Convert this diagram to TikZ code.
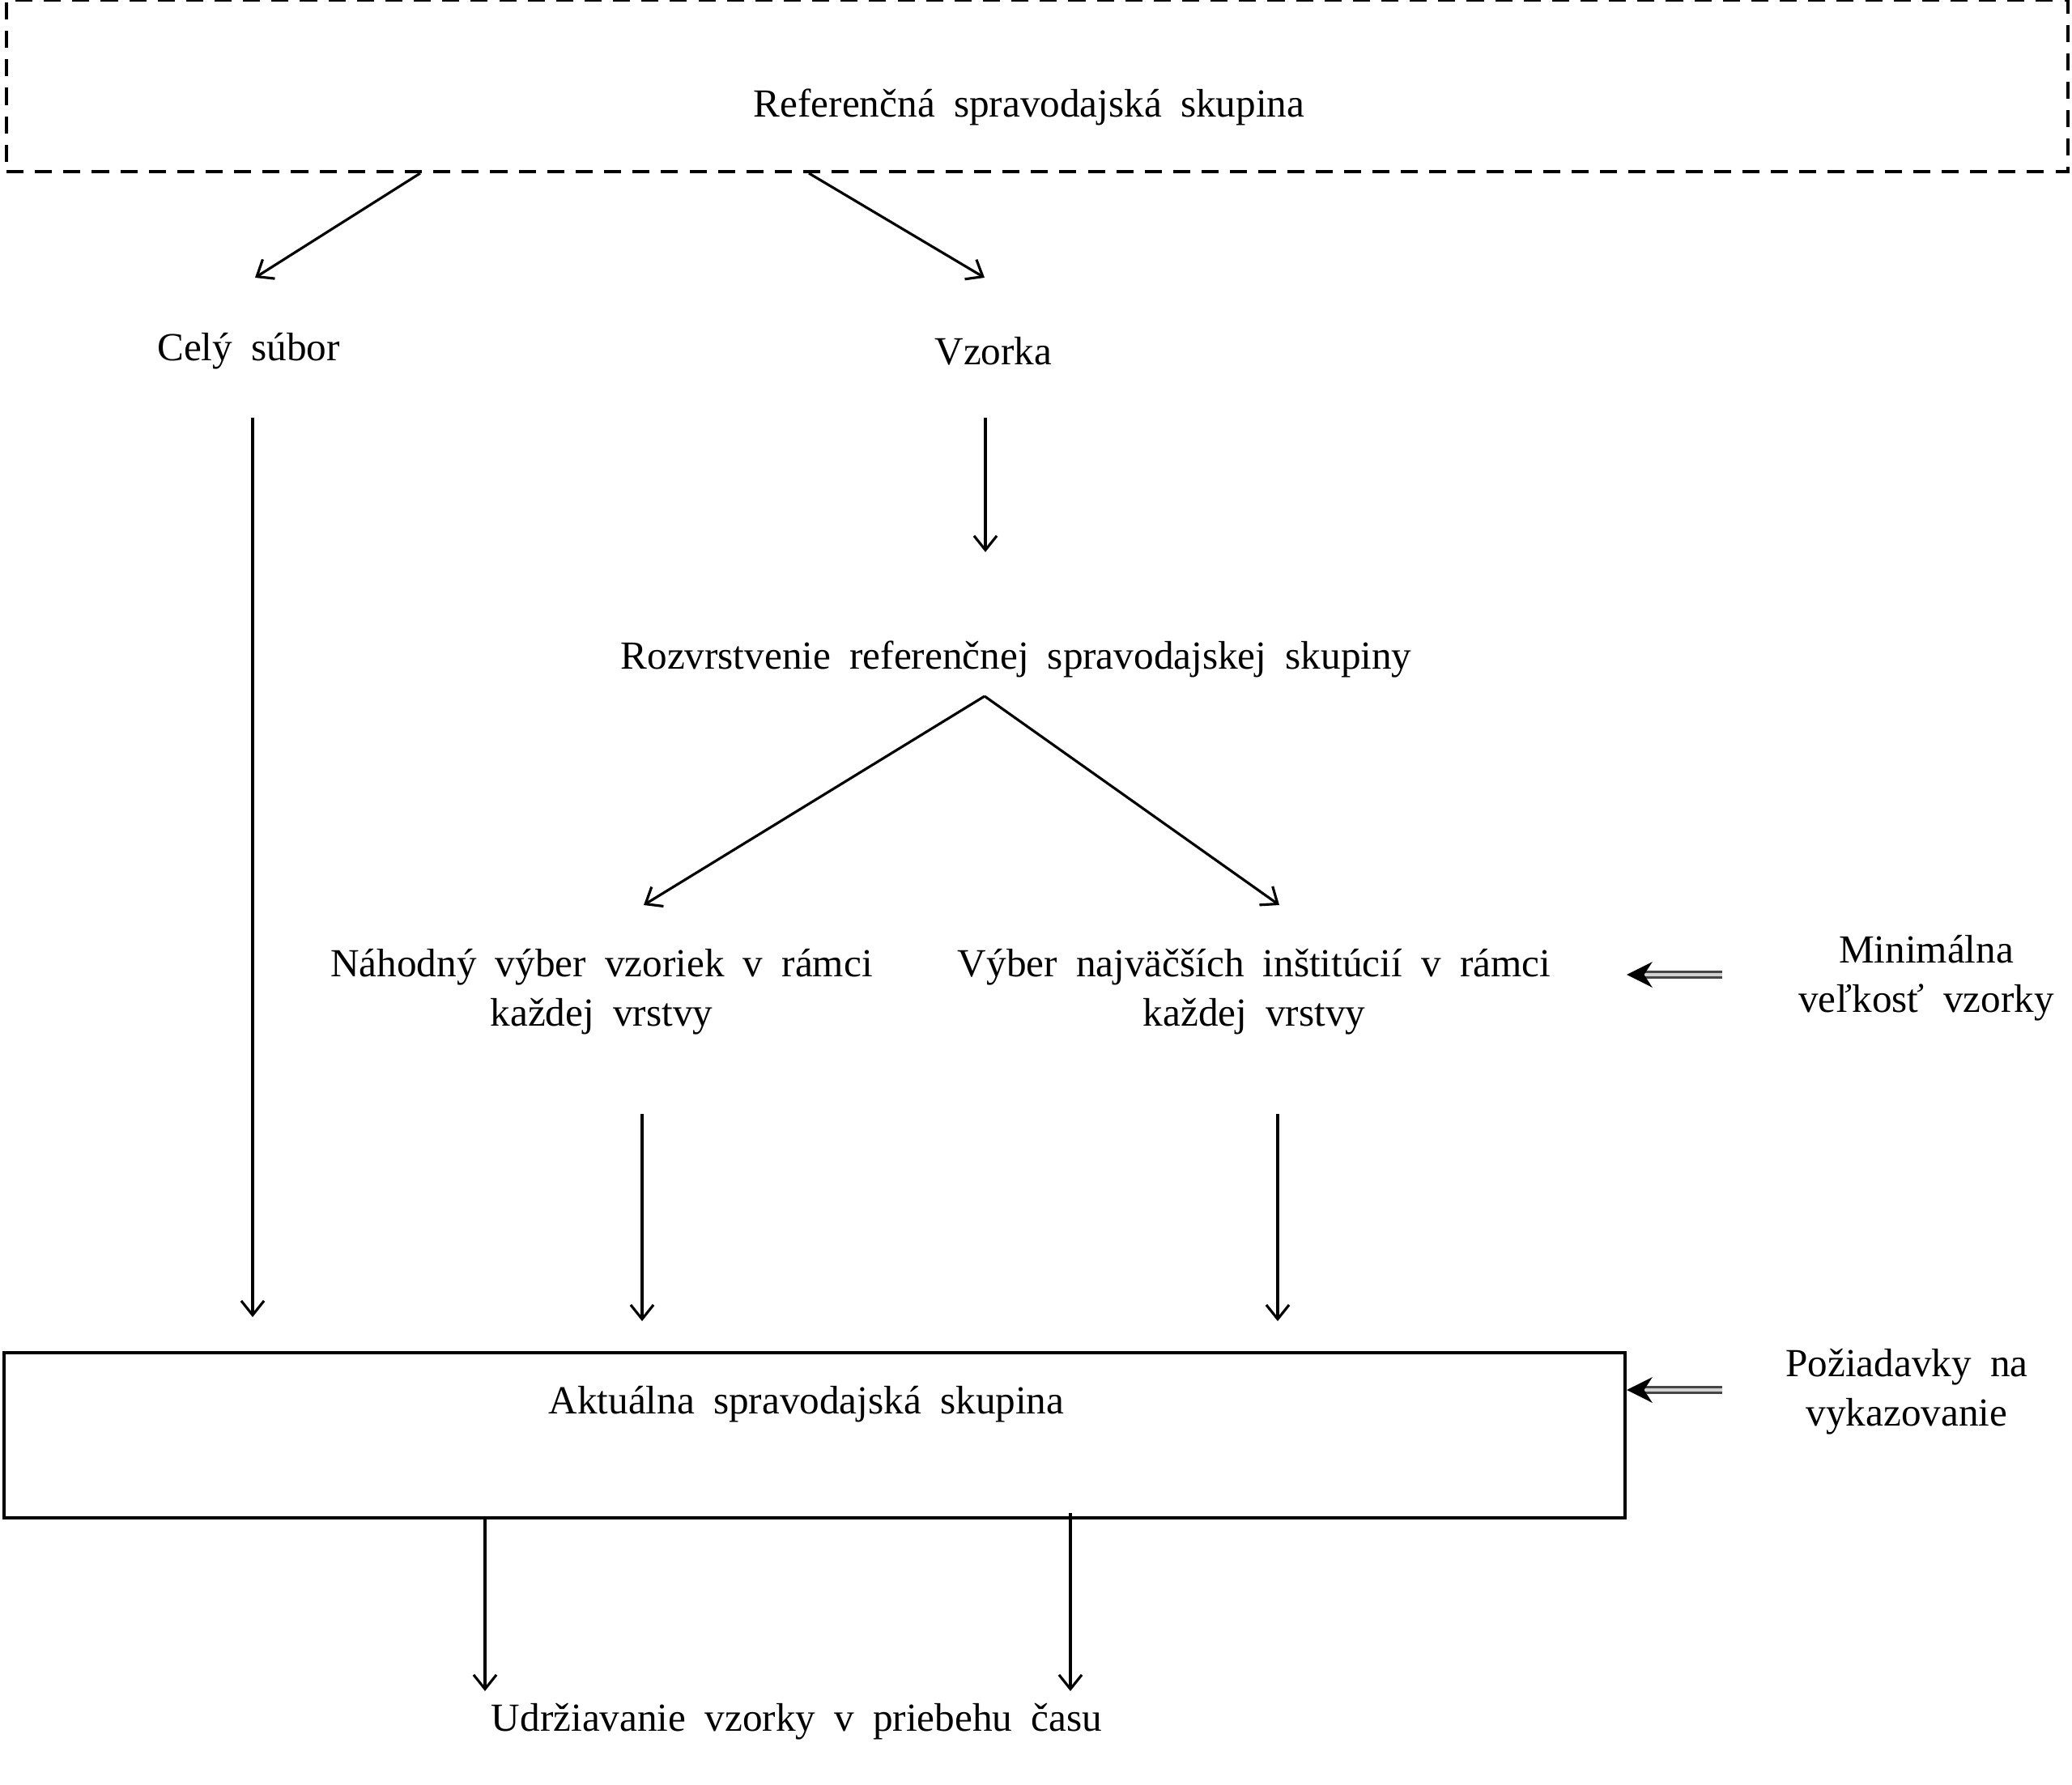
\documentclass[tikz,border=0pt]{standalone}
\usepackage{fontspec}
\setmainfont{Liberation Serif}
\usetikzlibrary{arrows.meta}
\usetikzlibrary{positioning}

\newcommand{\boxfont}{\fontsize{14}{17.5}\selectfont\spaceskip 6.6pt plus 1pt\relax}

\tikzset{
  txt/.style={inner sep=0pt, align=center, yshift=-0.5mm, font=\boxfont},
  arr/.style={line width=0.9pt, -{Straight Barb[length=5pt,width=8pt]}},
  dblarr/.style={draw=gray!55!black, double=gray!35, double distance=1.4pt, line width=0.7pt, -{Stealth[length=9pt,width=9pt,black]}}
}

\begin{document}
\begin{tikzpicture}[>=Stealth]
  \useasboundingbox (0,0) rectangle (25.59,-22.05);

  % ramce
  \node[draw, dashed, dash pattern=on 6pt off 4pt, line width=1.2pt, minimum width=25.46cm, minimum height=2.12cm, inner sep=0pt] (ref) at (12.81,-1.06) {};
  \node[txt] (reftext) at (12.71,-1.27) {Referenčná spravodajská skupina};
  \node[draw, line width=1.2pt, minimum width=20.02cm, minimum height=2.04cm, inner sep=0pt] (akt) at (10.06,-17.73) {};
  \node[txt] (akttext) at (9.96,-17.30) {Aktuálna spravodajská skupina};

  % texty
  \node[txt] (cely) at (3.07,-4.29) {Celý súbor};
  \node[txt] (vzorka) at (12.27,-4.29) {Vzorka};
  \node[txt] (rozv) at (12.55,-8.09) {Rozvrstvenie referenčnej spravodajskej skupiny};
  \node[txt] (nahod) at (7.43,-12.20) {Náhodný výber vzoriek v rámci\\ každej vrstvy};
  \node[txt] (vyber) at (15.49,-12.20) {Výber najväčších inštitúcií v rámci\\ každej vrstvy};
  \node[txt] (minim) at (23.79,-12.03) {Minimálna\\ veľkosť vzorky};
  \node[txt] (pozi) at (23.55,-17.14) {Požiadavky na\\ vykazovanie};
  \node[txt] (udrz) at (9.84,-21.22) {Udržiavanie vzorky v priebehu času};

  % body sipok
  \coordinate (refL) at (5.19,-2.14);
  \coordinate (refR) at (9.99,-2.14);
  \coordinate (celyIn) at (3.15,-3.43);
  \coordinate (vzorkaIn) at (12.16,-3.43);
  \coordinate (celyOut) at (3.12,-5.16);
  \coordinate (vzorkaOut) at (12.17,-5.16);
  \coordinate (rozvIn) at (12.17,-6.82);
  \coordinate (rozvOut) at (12.16,-8.60);
  \coordinate (nahodIn) at (7.95,-11.18);
  \coordinate (vyberIn) at (15.80,-11.18);
  \coordinate (nahodOut) at (7.93,-13.76);
  \coordinate (vyberOut) at (15.78,-13.76);
  \coordinate (minimOut) at (21.27,-12.04);
  \coordinate (poziOut) at (21.27,-17.17);
  \coordinate (udrzIn) at (5.99,-20.89);
  \coordinate (udrzIn2) at (13.22,-20.89);

  % sipky
  \draw[arr] (refL) -- (celyIn);
  \draw[arr] (refR) -- (vzorkaIn);
  \draw[arr] (celyOut) -- (celyOut |- 0,-16.27);
  \draw[arr] (vzorkaOut) -- (rozvIn);
  \draw[arr] (rozvOut) -- (nahodIn);
  \draw[arr] (rozvOut) -- (vyberIn);
  \draw[arr] (nahodOut) -- (nahodOut |- 0,-16.32);
  \draw[arr] (vyberOut) -- (vyberOut |- 0,-16.32);
  \draw[dblarr] (minimOut) -- (akt.east |- minimOut);
  \draw[dblarr] (poziOut) -- (akt.east |- poziOut);
  \draw[arr] (udrzIn |- akt.south) -- (udrzIn);
  \draw[arr] (13.22,-18.69) -- (udrzIn2);
\end{tikzpicture}
\end{document}
